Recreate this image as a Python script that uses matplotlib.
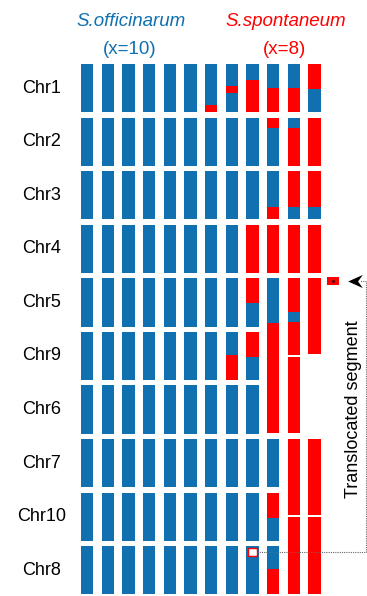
import matplotlib
matplotlib.use("Agg")
import matplotlib.pyplot as plt
from matplotlib.patches import Rectangle
from matplotlib.path import Path

plt.rcParams['font.family'] = ['Liberation Sans', 'DejaVu Sans']

# chromosome groups, top to bottom
chrom_labels = ['Chr1', 'Chr2', 'Chr3', 'Chr4', 'Chr5', 'Chr9', 'Chr6', 'Chr7', 'Chr10', 'Chr8']
n_officinarum_cols = 6  # purely S. officinarum copies on the left

# painted copies: (start row, [(origin, length), ...]) from top to bottom
# 'O' = S. officinarum, 'S' = S. spontaneum; lengths in row units
painted_cols = [
    [(0, [('O', .76), ('S', .14)]), (1, [('O', .9)]), (2, [('O', .9)]), (3, [('O', .9)]),
     (4, [('O', .9)]), (5, [('O', .9)]), (6, [('O', .9)]), (7, [('O', .9)]),
     (8, [('O', .9)]), (9, [('O', .9)])],
    [(0, [('O', .405), ('S', .13), ('O', .365)]), (1, [('O', .9)]), (2, [('O', .9)]),
     (3, [('O', .9)]), (4, [('O', .9)]), (5, [('O', .435), ('S', .465)]), (6, [('O', .9)]),
     (7, [('O', .9)]), (8, [('O', .9)]), (9, [('O', .9)])],
    [(0, [('O', .3), ('S', .6)]), (1, [('O', .9)]), (2, [('O', .9)]), (3, [('S', .9)]),
     (4, [('S', .467), ('O', .433)]), (5, [('S', .467), ('O', .433)]), (6, [('O', .9)]),
     (7, [('O', .9)]), (8, [('O', .9)]), (9, [('O', .9)])],
    [(0, [('O', .45), ('S', .45)]), (1, [('S', .2), ('O', .7)]), (2, [('O', .66), ('S', .24)]),
     (3, [('S', .9)]), (4, [('O', .83), ('S', .63)]), (5.47, [('S', 1.42)]),
     (7, [('O', .9)]), (8, [('S', .47), ('O', .43)]), (9, [('O', .43), ('S', .47)])],
    [(0, [('O', .44), ('S', .46)]), (1, [('O', .19), ('S', .71)]), (2, [('S', .66), ('O', .24)]),
     (3, [('S', .9)]), (4, [('S', .63), ('O', .19), ('S', .62)]), (5.47, [('S', 1.42)]),
     (7, [('S', 1.42)]), (8.46, [('S', 1.44)])],
    [(0, [('S', .46), ('O', .44)]), (1, [('S', .9)]), (2, [('S', .66), ('O', .24)]),
     (3, [('S', .9)]), (4, [('S', 1.42)]), (7, [('S', 1.42)]), (8.46, [('S', 1.44)])],
]

# missing segment on Chr8 (column, row, offset, length) and where it landed
missing_seg = (8, 9, .03, .15)
translocated_seg = (11.9, 3.97, .155)

colors = {'O': '#1070b0', 'S': '#ff0000'}
bar_w = 0.6

fig = plt.figure(figsize=(3.67, 5.96), dpi=100)
ax = fig.add_axes([0, 0, 1, 1])
ax.set_xlim(-3.92, 13.84)
ax.set_ylim(9.93, -1.195)
ax.axis('off')

# S. officinarum copies
for c in range(n_officinarum_cols):
    for r in range(len(chrom_labels)):
        ax.add_patch(Rectangle((c, r), bar_w, .9, facecolor=colors['O'], lw=0))

# painted copies
for i, col in enumerate(painted_cols):
    c = n_officinarum_cols + i
    for start, segs in col:
        y = start
        for origin, length in segs:
            ax.add_patch(Rectangle((c, y), bar_w, length, facecolor=colors[origin], lw=0))
            y += length

for r, lab in enumerate(chrom_labels):
    ax.text(-1.9, r + .45, lab, ha='center', va='center', fontsize=13)

# headers
ax.text(2.4, -0.8, 'S.officinarum', color=colors['O'], style='italic',
        ha='center', va='center', fontsize=13.5)
ax.text(2.37, -0.28, '(x=10)', color=colors['O'], ha='center', va='center', fontsize=13.5)
ax.text(9.92, -0.8, 'S.spontaneum', color=colors['S'], style='italic',
        ha='center', va='center', fontsize=13.5)
ax.text(9.83, -0.28, '(x=8)', color=colors['S'], ha='center', va='center', fontsize=13.5)

# translocation: empty box on Chr8, segment moved next to Chr5
mc, mr, moff, mlen = missing_seg
ax.add_patch(Rectangle((mc + .08, mr + moff), bar_w - .16, mlen,
                       facecolor='white', edgecolor=colors['S'], lw=1))
tx, ty, tlen = translocated_seg
ax.add_patch(Rectangle((tx, ty), bar_w, tlen, facecolor=colors['S'], lw=0))
ax.plot(tx + bar_w / 2, ty + tlen / 2, 'o', color='#600000', ms=1.2)

ax.plot([mc + bar_w - .08, 13.79, 13.79, 13.5],
        [mr + moff + mlen / 2] * 2 + [ty + tlen / 2] * 2,
        ls=(0, (1, 1)), color='#666666', lw=0.8)
head = Path([(-1, 0), (1, .9), (.35, 0), (1, -.9), (-1, 0)],
            [Path.MOVETO, Path.LINETO, Path.LINETO, Path.LINETO, Path.CLOSEPOLY])
ax.plot(13.24, ty + tlen / 2, marker=head, color='black', ms=10.5, mew=0)

ax.text(13.17, 6.44, 'Translocated segment', rotation=90, ha='center', va='center',
        fontsize=13)

fig.savefig('out.png', dpi=100)
